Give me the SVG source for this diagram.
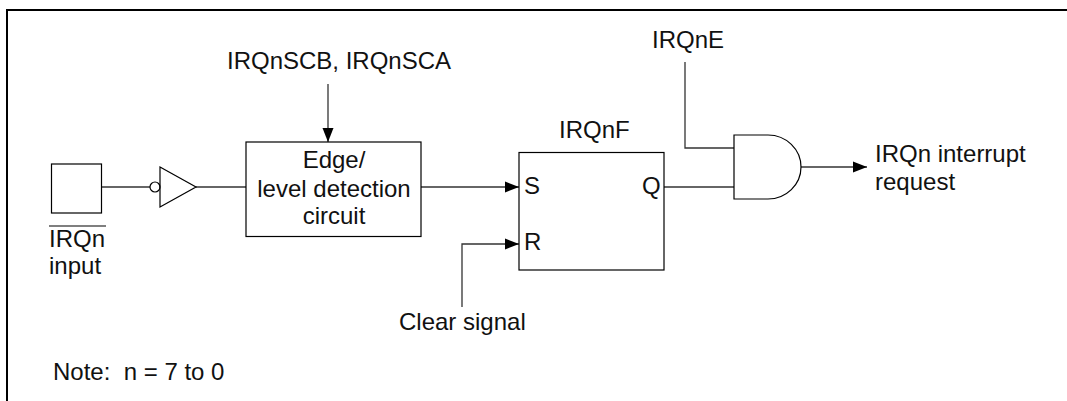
<svg xmlns="http://www.w3.org/2000/svg" width="1067" height="401" viewBox="0 0 1067 401">
<defs><marker id="a" markerUnits="userSpaceOnUse" markerWidth="14" markerHeight="12" refX="14" refY="6" orient="auto"><path d="M0 0.500L14 6L0 11.500Z" fill="#000"/></marker></defs>
<style>.l{fill:none;stroke:#000;stroke-width:1.200}.c{fill:none;stroke:#333;stroke-width:1.300}.t{font:24px "Liberation Sans",Arial,sans-serif;fill:#111}</style>
<rect width="1067" height="401" fill="#fff"/>
<path fill="none" stroke="#000" stroke-width="2" d="M1067 10H7V401"/>
<g id="connectors">
<path class="c" d="M102 187H150"/>
<path class="c" d="M196 187H246"/>
<path class="c" d="M328 84V142" marker-end="url(#a)"/>
<path class="c" d="M421 187H519" marker-end="url(#a)"/>
<path class="c" d="M462 307V244H519" marker-end="url(#a)"/>
<path class="c" d="M664 187H734"/>
<path class="c" d="M685 62V148H734"/>
<path class="c" d="M801 167H867" marker-end="url(#a)"/>
</g>
<g id="input"><rect class="l" x="51.500" y="164" width="50" height="49"/><text class="t" x="49" y="247">IRQn</text><path class="l" d="M49 226H106"/><text class="t" x="49" y="274">input</text></g>
<g id="inverter"><circle class="l" cx="155" cy="187" r="5"/><path class="l" d="M160 167V207L196 187Z"/></g>
<g id="detector"><rect class="l" x="246" y="142" width="175" height="94.500"/><text class="t" text-anchor="middle" x="334" y="168">Edge/</text><text class="t" text-anchor="middle" x="334" y="197">level detection</text><text class="t" text-anchor="middle" x="334" y="224">circuit</text></g>
<g id="scb"><text class="t" x="227" y="69">IRQnSCB, IRQnSCA</text></g>
<g id="flipflop"><rect class="l" x="519" y="152.500" width="145" height="117.500"/><text class="t" x="559" y="138">IRQnF</text><text class="t" x="524" y="194">S</text><text class="t" x="524" y="250">R</text><text class="t" x="642" y="194">Q</text></g>
<g id="clear"><text class="t" x="399" y="330">Clear signal</text></g>
<g id="and"><path class="l" d="M734 135H768A33 32 0 0 1 768 199H734Z"/></g>
<g id="irqne"><text class="t" x="652" y="48">IRQnE</text></g>
<g id="output"><text class="t" x="875" y="162">IRQn interrupt</text><text class="t" x="875" y="190">request</text></g>
<g id="note"><text class="t" x="53" y="380">Note:&#160; n = 7 to 0</text></g>
</svg>
